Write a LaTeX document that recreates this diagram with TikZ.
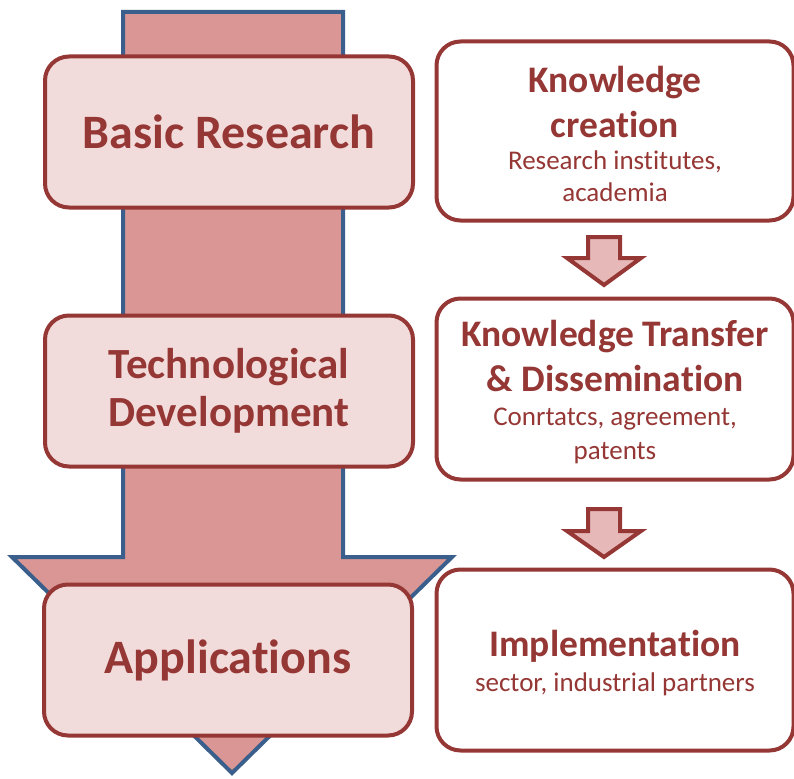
\documentclass[tikz,border=0pt]{standalone}
\usepackage{fontspec}
\setmainfont{Carlito}[Ligatures=NoCommon]
\definecolor{darkred}{HTML}{953735}
\definecolor{lightpink}{HTML}{F2DCDB}
\definecolor{arrowpink}{HTML}{D99694}
\definecolor{arrowblue}{HTML}{3A5F8C}
\definecolor{smallpink}{HTML}{E6B9B8}
\newcommand\titlefont{\bfseries\fontsize{37.5}{45}\selectfont\spaceskip=\fontdimen2\font\relax}
\newcommand\subfont[1]{\fontsize{27}{#1}\selectfont\spaceskip=\fontdimen2\font\relax}
\begin{document}
\begin{tikzpicture}[x=1pt,y=-1pt,
  bigarrow/.style={draw=arrowblue, fill=arrowpink, line width=4pt, line join=miter},
  smallarrow/.style={draw=darkred, fill=smallpink, line width=4pt, line join=miter},
  leftbox/.style={draw=darkred, fill=lightpink, line width=4pt, rounded corners=24pt,
    minimum width=368pt, minimum height=151pt, text=darkred, align=center,
    font=\bfseries\fontsize{48}{56}\selectfont},
  rightbox/.style={draw=darkred, fill=white, line width=4pt, rounded corners=24pt,
    minimum width=357pt, minimum height=181pt, text=darkred, text width=345pt, align=center}]
\useasboundingbox (0,0) rectangle (794,778);
% Big arrow behind the stages
\draw[bigarrow] (123,12) -- (343,12) -- (343,557) -- (452,557) -- (232,773)
  -- (12,557) -- (123,557) -- cycle;
% Stages on the left
\node[leftbox] (basic) at (229,132) {Basic Research};
\node[leftbox, font=\bfseries\fontsize{43}{48}\selectfont] (tech) at (229,391)
  {Technological\\Development};
\node[leftbox] (appl) at (228,660) {Applications};
% Boxes on the right
\node[rightbox, minimum height=179pt] (creation) at (615,131)
  {{\titlefont\rule{0pt}{32pt}Knowledge\\creation\par}
   {\subfont{32}Research institutes,\\academia\par}};
\node[rightbox] (transfer) at (615,389)
  {{\titlefont\rule{0pt}{32pt}Knowledge Transfer\\\& Dissemination\par}
   {\subfont{34}Conrtatcs, agreement,\\patents\par}};
\node[rightbox] (impl) at (615,660)
  {{\titlefont\rule{0pt}{32pt}Implementation\par}
   {\subfont{35}sector, industrial partners\par}};
% Small arrows between the right boxes
\coordinate (arr1) at (604,261);
\draw[smallarrow] (arr1) ++(-16,-24) -- ++(32,0) -- ++(0,21) -- ++(21,0)
  -- ++(-37,27) -- ++(-37,-27) -- ++(21,0) -- cycle;
\coordinate (arr2) at (604,533);
\draw[smallarrow] (arr2) ++(-16,-24) -- ++(32,0) -- ++(0,22) -- ++(21,0)
  -- ++(-37,26) -- ++(-37,-26) -- ++(21,0) -- cycle;
\end{tikzpicture}
\end{document}
